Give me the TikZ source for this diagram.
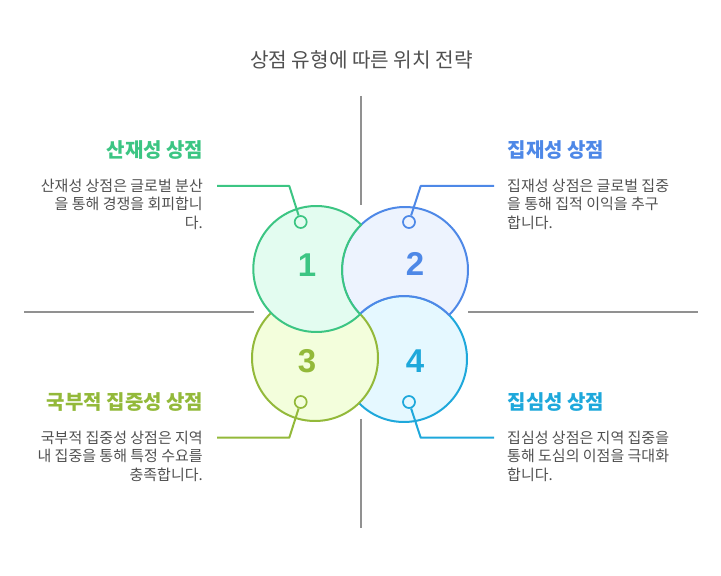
\documentclass[tikz,border=0pt]{standalone}
\usepackage{fontspec}
\usetikzlibrary{calc}
\setmainfont{Noto Sans CJK KR}
\newfontfamily\digitfont{Liberation Sans}
\definecolor{cgreen}{HTML}{3CC583}
\definecolor{fgreen}{HTML}{E3FCF0}
\definecolor{cblue}{HTML}{4E88E7}
\definecolor{fblue}{HTML}{EDF3FE}
\definecolor{clime}{HTML}{93B93A}
\definecolor{flime}{HTML}{F3FEDC}
\definecolor{ccyan}{HTML}{1EA8DB}
\definecolor{fcyan}{HTML}{E5F8FF}
\definecolor{ctext}{HTML}{505050}
\tikzset{
  blob/.style={line width=2pt,line join=round},
  axisline/.style={draw=black!43,line width=1.6pt},
  ring/.style={circle,draw,line width=1.7pt,minimum size=12pt,inner sep=0pt},
  lead/.style={line width=2pt,line join=round},
  digit/.style={font=\fontsize{33}{33}\selectfont\digitfont\bfseries,inner sep=0pt},
  heading/.style={font=\fontsize{20}{24}\selectfont\bfseries,inner sep=0pt},
  bodyr/.style={font=\fontsize{15}{18.5}\selectfont,text=ctext,inner sep=0pt,align=right,anchor=north east},
  bodyl/.style={font=\fontsize{15}{18.5}\selectfont,text=ctext,inner sep=0pt,align=left,anchor=north west},
}
\begin{document}
\begin{tikzpicture}[x=1pt,y=1pt]
\useasboundingbox (0,0) rectangle (721,576);
\coordinate (c1) at (316.3,307);
\coordinate (c2) at (405,306);
\coordinate (c3) at (315,218);
\coordinate (c4) at (404,217);
% axis lines
\coordinate (t1) at (361,480); \coordinate (t2) at (361,371);
\coordinate (u1) at (361,157); \coordinate (u2) at (361,48);
\coordinate (l1) at (24,264); \coordinate (l2) at (254,264);
\coordinate (g1) at (468,264); \coordinate (g2) at (698,264);
\draw[axisline] (t1)--(t2); \draw[axisline] (u1)--(u2);
\draw[axisline] (l1)--(l2); \draw[axisline] (g1)--(g2);
% shapes
\draw[blob,draw=ccyan,fill=fcyan] (c4) circle[radius=63pt];
\draw[blob,draw=clime,fill=flime] (c3) circle[radius=63pt];
\draw[blob,draw=cblue,fill=fblue] (c2) ++(314.4:63pt) arc[start angle=314.4,end angle=584.3,radius=63pt]
   -- ($(c4)+(134.42:63pt)$) arc[start angle=134.42,end angle=44.3,radius=63pt] -- cycle;
\draw[blob,draw=cgreen,fill=fgreen] (c1) ++(44.6:63pt) arc[start angle=44.6,end angle=314.1,radius=63pt]
   -- ($(c2)+(224.6:63pt)$) arc[start angle=224.6,end angle=134.1,radius=63pt] -- cycle;
% digits
\node[digit,text=cgreen] (n1) at (307,311) {1};
\node[digit,text=cblue] (n2) at (415,312) {2};
\node[digit,text=clime] (n3) at (307,215) {3};
\node[digit,text=ccyan] (n4) at (415,215) {4};
% leaders
\coordinate (b1) at (289.3,390); \coordinate (e1) at (217,390);
\coordinate (b2) at (420.7,390); \coordinate (e2) at (494,390);
\coordinate (b3) at (289.3,138.3); \coordinate (e3) at (217,138.3);
\coordinate (b4) at (420.7,138.3); \coordinate (e4) at (494,138.3);
\node[ring,draw=cgreen,fill=fgreen] (r1) at (300.7,354) {};
\node[ring,draw=cblue,fill=fblue] (r2) at (409,354) {};
\node[ring,draw=clime,fill=flime] (r3) at (300.7,174) {};
\node[ring,draw=ccyan,fill=fcyan] (r4) at (409,174) {};
\draw[lead,draw=cgreen] (r1)--(b1)--(e1);
\draw[lead,draw=cblue] (r2)--(b2)--(e2);
\draw[lead,draw=clime] (r3)--(b3)--(e3);
\draw[lead,draw=ccyan] (r4)--(b4)--(e4);
% title
\node[font=\fontsize{20.2}{24}\selectfont,text=ctext,inner sep=0pt] (title) at (361.5,516) {상점 유형에 따른 위치 전략};
% headings
\node[heading,text=cgreen,anchor=east] (h1) at (203.5,426) {산재성 상점};
\node[heading,text=cblue,anchor=west] (h2) at (507.5,426) {집재성 상점};
\node[heading,text=clime,anchor=east] (h3) at (203.5,174) {국부적 집중성 상점};
\node[heading,text=ccyan,anchor=west] (h4) at (507.5,174) {집심성 상점};
% bodies
\node[bodyr] (d1) at (203,397.5) {산재성 상점은 글로벌 분산\\을 통해 경쟁을 회피합니\\다.};
\node[bodyl] (d2) at (507,397.5) {집재성 상점은 글로벌 집중\\을 통해 집적 이익을 추구\\합니다.};
\node[bodyr] (d3) at (203,145.5) {국부적 집중성 상점은 지역\\내 집중을 통해 특정 수요를\\충족합니다.};
\node[bodyl] (d4) at (507,145.5) {집심성 상점은 지역 집중을\\통해 도심의 이점을 극대화\\합니다.};
\end{tikzpicture}
\end{document}
